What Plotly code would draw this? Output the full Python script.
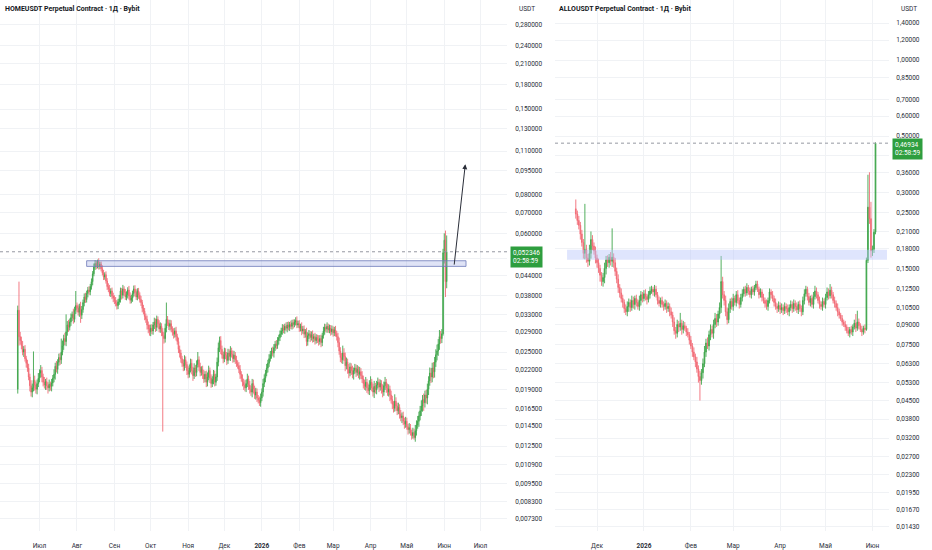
import numpy as np
import pandas as pd
import plotly.graph_objects as go

W, H = 932, 550

# ---- HOMEUSDT daily candles (prices in 1e-4 USDT) ----
home_first_open = 190
home_close = [
    340, 280, 272, 262, 250, 255, 238, 230, 222, 208, 195, 186, 192, 203, 196, 190, 198, 206, 214, 218,
    208, 200, 196, 201, 195, 192, 197, 194, 199, 206, 212, 225, 220, 232, 240, 236, 250, 262, 276, 270,
    290, 305, 300, 312, 322, 330, 318, 340, 352, 345, 335, 350, 328, 342, 360, 375, 368, 385, 395, 390,
    405, 420, 445, 468, 480, 472, 488, 470, 478, 462, 448, 435, 442, 422, 405, 398, 385, 392, 378, 372,
    365, 358, 352, 362, 370, 392, 380, 398, 388, 375, 382, 395, 378, 366, 372, 385, 398, 388, 375, 392,
    380, 368, 360, 345, 338, 325, 318, 305, 296, 290, 298, 292, 305, 312, 300, 318, 308, 296, 302, 290,
    282, 276, 298, 318, 310, 302, 308, 296, 290, 285, 292, 280, 270, 255, 248, 238, 230, 225, 236, 228,
    218, 212, 222, 230, 218, 210, 222, 215, 228, 236, 224, 215, 220, 212, 205, 212, 200, 208, 218, 206,
    198, 204, 212, 200, 208, 232, 258, 272, 255, 245, 238, 250, 244, 235, 248, 242, 252, 246, 238, 244,
    236, 230, 226, 220, 212, 206, 200, 196, 192, 198, 205, 196, 190, 186, 198, 190, 182, 186, 178, 175,
    172, 178, 186, 198, 206, 214, 222, 230, 238, 245, 252, 248, 258, 265, 262, 272, 278, 285, 292, 298,
    294, 302, 298, 305, 300, 306, 302, 310, 306, 312, 315, 305, 308, 298, 302, 292, 296, 285, 290, 270,
    282, 286, 278, 284, 276, 280, 272, 278, 274, 270, 276, 268, 282, 292, 300, 296, 302, 294, 298, 290,
    296, 288, 294, 286, 280, 268, 252, 240, 236, 248, 242, 226, 232, 220, 214, 224, 218, 212, 218, 222,
    215, 220, 212, 216, 210, 205, 198, 194, 200, 192, 188, 196, 200, 192, 186, 194, 189, 196, 200, 193,
    198, 190, 186, 195, 200, 192, 186, 190, 182, 176, 170, 165, 174, 168, 162, 166, 158, 154, 156, 150,
    147, 150, 144, 141, 143, 138, 135, 138, 133, 140, 146, 150, 156, 162, 168, 176, 172, 182, 178, 190,
    202, 214, 208, 222, 216, 232, 245, 252, 265, 280, 276, 286, 520, 570, 420, 523.46,
]
home_upper_wick = [
    12, 80, 10, 8, 9, 6, 8, 5, 6, 7, 5, 8, 6, 48, 7, 5, 6, 8, 6, 9,
    6, 5, 8, 4, 6, 5, 7, 4, 6, 5, 8, 6, 9, 5, 7, 8, 26, 10, 8, 12,
    40, 9, 12, 8, 10, 7, 14, 9, 40, 8, 10, 7, 12, 9, 8, 10, 12, 8, 9, 11,
    8, 10, 9, 12, 12, 10, 6, 11, 8, 9, 12, 10, 8, 11, 9, 10, 12, 8, 10, 9,
    8, 10, 9, 8, 11, 10, 9, 12, 8, 10, 9, 8, 12, 10, 9, 8, 10, 11, 9, 8,
    9, 8, 10, 7, 9, 8, 7, 9, 8, 10, 8, 9, 7, 10, 8, 9, 7, 8, 9, 7,
    8, 7, 10, 42, 8, 7, 9, 8, 6, 8, 7, 9, 6, 8, 7, 6, 5, 7, 8, 6,
    5, 7, 6, 8, 7, 6, 8, 5, 7, 14, 6, 7, 5, 6, 7, 5, 6, 7, 8, 5,
    6, 5, 7, 6, 5, 8, 10, 8, 9, 7, 6, 8, 7, 6, 8, 7, 9, 6, 7, 8,
    6, 7, 5, 6, 7, 5, 6, 5, 7, 6, 8, 5, 6, 5, 7, 6, 5, 6, 5, 4,
    5, 6, 5, 7, 6, 5, 7, 6, 8, 7, 6, 8, 7, 6, 8, 7, 6, 8, 7, 9,
    8, 6, 9, 7, 8, 6, 9, 7, 8, 6, 8, 10, 7, 8, 6, 9, 7, 8, 6, 9,
    7, 8, 6, 7, 9, 6, 8, 7, 6, 9, 7, 8, 6, 9, 8, 7, 9, 6, 8, 7,
    8, 6, 7, 9, 6, 8, 10, 7, 8, 14, 9, 7, 8, 6, 9, 7, 6, 8, 5, 7,
    6, 7, 5, 8, 6, 7, 5, 6, 8, 5, 6, 7, 9, 5, 6, 8, 5, 6, 7, 5,
    6, 5, 7, 6, 8, 5, 6, 7, 5, 6, 5, 4, 9, 5, 4, 6, 4, 5, 4, 5,
    4, 5, 4, 3, 5, 4, 3, 5, 4, 6, 5, 6, 5, 6, 7, 6, 8, 6, 7, 8,
    7, 9, 8, 9, 10, 9, 10, 12, 10, 14, 12, 10, 15, 30, 42, 67,
]
home_lower_wick = [
    6, 18, 8, 7, 6, 9, 5, 7, 6, 5, 8, 6, 7, 5, 8, 6, 7, 5, 6, 7,
    8, 6, 5, 7, 6, 8, 5, 6, 7, 5, 6, 8, 5, 7, 6, 9, 7, 6, 8, 7,
    9, 8, 10, 7, 9, 8, 10, 7, 9, 10, 8, 11, 18, 9, 8, 10, 9, 8, 11, 9,
    10, 9, 11, 8, 10, 12, 9, 11, 10, 9, 8, 10, 9, 8, 10, 9, 8, 10, 9, 11,
    9, 8, 10, 9, 8, 10, 12, 9, 10, 8, 9, 11, 10, 9, 8, 10, 9, 11, 8, 9,
    10, 8, 9, 10, 8, 9, 8, 10, 9, 8, 9, 7, 8, 9, 10, 8, 9, 7, 8, 9,
    143, 10, 8, 9, 7, 8, 9, 7, 8, 9, 7, 8, 6, 7, 8, 7, 6, 8, 7, 6,
    7, 6, 5, 7, 6, 8, 5, 7, 6, 5, 7, 6, 5, 7, 6, 5, 7, 6, 5, 7,
    6, 5, 7, 6, 5, 6, 7, 8, 9, 7, 8, 6, 7, 8, 6, 7, 8, 6, 7, 6,
    7, 6, 5, 6, 7, 5, 6, 7, 5, 6, 5, 7, 6, 5, 7, 6, 5, 6, 5, 4,
    4, 5, 4, 6, 5, 6, 5, 7, 6, 5, 7, 6, 8, 6, 7, 6, 8, 7, 6, 8,
    7, 8, 6, 9, 7, 8, 6, 7, 9, 6, 8, 7, 6, 8, 7, 9, 6, 8, 7, 9,
    8, 7, 9, 6, 8, 7, 8, 6, 7, 8, 6, 9, 7, 6, 8, 7, 8, 6, 7, 8,
    6, 8, 7, 6, 8, 9, 7, 8, 6, 7, 8, 9, 6, 7, 8, 5, 7, 6, 8, 5,
    7, 5, 6, 8, 5, 6, 7, 5, 6, 7, 5, 6, 7, 5, 6, 8, 5, 6, 5, 7,
    5, 6, 7, 5, 6, 7, 5, 6, 8, 5, 6, 5, 4, 6, 5, 4, 5, 4, 6, 4,
    5, 4, 3, 5, 4, 3, 4, 3, 2, 4, 5, 4, 6, 5, 6, 7, 10, 6, 7, 8,
    8, 7, 9, 8, 10, 9, 8, 10, 9, 11, 10, 9, 4, 40, 45, 20,
]

# ---- ALLOUSDT daily candles (prices in 1e-3 USDT) ----
allo_first_open = 258
allo_close = [
    246, 232, 222, 205, 190, 172, 178, 165, 160, 172, 195, 184, 176, 165, 158, 150, 141, 133, 138, 150,
    162, 158, 166, 160, 166, 158, 146, 136, 126, 120, 114, 110, 104, 101, 106, 110, 105, 112, 108, 114,
    110, 106, 112, 118, 114, 119, 116, 113, 118, 122, 124, 121, 124, 118, 112, 109, 112, 108, 106, 109,
    104, 106, 101, 98, 92, 85, 83, 90, 88, 91, 86, 89, 87, 84, 82, 78, 74, 70, 67, 64,
    60, 56, 54, 58, 63, 70, 76, 74, 82, 86, 83, 90, 95, 92, 99, 105, 133, 118, 112, 101,
    94, 104, 111, 106, 114, 110, 118, 112, 108, 115, 119, 124, 120, 126, 122, 118, 124, 121, 126, 130,
    124, 118, 121, 115, 112, 109, 106, 112, 121, 118, 114, 110, 106, 104, 107, 103, 105, 102, 106, 104,
    101, 105, 108, 104, 109, 106, 103, 108, 104, 101, 112, 119, 124, 116, 110, 114, 108, 116, 122, 118,
    112, 108, 106, 111, 108, 115, 121, 117, 123, 118, 112, 109, 105, 101, 98, 95, 92, 90, 88, 85,
    83, 86, 84, 88, 91, 87, 92, 89, 86, 84, 87, 86, 161.5, 262, 236, 176, 178.6, 208.6, 469.34,
]
allo_upper_wick = [
    23, 8, 10, 7, 8, 6, 92, 8, 6, 14, 15, 8, 6, 7, 5, 6, 5, 4, 6, 8,
    6, 7, 5, 8, 50, 6, 7, 5, 6, 4, 5, 4, 3, 4, 5, 4, 3, 5, 4, 3,
    4, 3, 5, 4, 3, 4, 5, 3, 4, 5, 4, 3, 5, 4, 3, 4, 3, 4, 3, 4,
    3, 4, 3, 4, 3, 4, 3, 4, 3, 9, 3, 4, 3, 2, 3, 2, 3, 2, 3, 2,
    3, 2, 3, 2, 3, 4, 3, 4, 3, 4, 3, 4, 5, 4, 3, 5, 35, 6, 4, 5,
    4, 5, 3, 4, 5, 3, 4, 5, 3, 4, 5, 3, 4, 5, 3, 4, 3, 4, 3, 4,
    4, 3, 4, 3, 4, 3, 4, 3, 4, 3, 4, 3, 4, 3, 4, 3, 4, 3, 4, 3,
    4, 3, 4, 3, 4, 3, 4, 3, 4, 3, 4, 5, 4, 3, 4, 3, 4, 5, 6, 4,
    3, 4, 3, 4, 3, 4, 5, 4, 7, 4, 3, 4, 3, 4, 3, 2, 3, 2, 3, 2,
    3, 2, 3, 2, 3, 8, 10, 3, 2, 3, 2, 3, 4, 90, 98, 39, 6, 6, 3,
]
allo_lower_wick = [
    10, 9, 8, 10, 7, 8, 9, 7, 8, 6, 8, 7, 6, 8, 7, 6, 8, 5, 6, 7,
    8, 6, 7, 6, 8, 7, 6, 5, 6, 5, 4, 5, 4, 3, 4, 5, 4, 3, 4, 5,
    4, 3, 4, 5, 4, 3, 4, 5, 3, 4, 3, 4, 5, 3, 4, 3, 4, 3, 4, 3,
    4, 3, 4, 3, 4, 3, 4, 3, 4, 3, 4, 3, 2, 3, 2, 3, 2, 3, 2, 3,
    2, 3, 9, 2, 3, 2, 3, 2, 3, 4, 3, 4, 3, 4, 3, 4, 5, 4, 5, 4,
    4, 3, 4, 3, 4, 3, 4, 3, 4, 3, 4, 3, 4, 3, 4, 3, 4, 3, 4, 3,
    3, 4, 3, 4, 3, 4, 3, 4, 3, 4, 3, 4, 3, 4, 3, 4, 3, 4, 3, 4,
    3, 4, 3, 4, 3, 4, 3, 4, 3, 4, 3, 4, 3, 4, 3, 4, 3, 4, 3, 4,
    3, 4, 3, 4, 3, 4, 3, 4, 3, 4, 3, 4, 3, 4, 3, 2, 3, 2, 3, 2,
    2, 3, 2, 3, 2, 3, 2, 3, 2, 3, 2, 3, 1, 4, 11, 10.5, 8, 6, 4,
]

last_day = "2026-06-03"
home_last_text = "0,052346"
allo_last_text = "0,46934"
countdown = "02:58:59"

home_yticks = [0.28, 0.24, 0.21, 0.18, 0.15, 0.13, 0.11, 0.095, 0.08, 0.07, 0.06, 0.05, 0.044,
               0.038, 0.033, 0.029, 0.025, 0.022, 0.019, 0.0165, 0.0145, 0.0125, 0.0109,
               0.0095, 0.0083, 0.0073]
allo_yticks = [1.4, 1.2, 1.0, 0.85, 0.70, 0.60, 0.50, 0.42, 0.36, 0.30, 0.25, 0.21, 0.18, 0.15,
               0.125, 0.105, 0.09, 0.075, 0.063, 0.053, 0.045, 0.038, 0.032, 0.027, 0.023,
               0.0195, 0.0167, 0.0143]

home_months = ["2025-07-01", "2025-08-01", "2025-09-01", "2025-10-01", "2025-11-01", "2025-12-01",
               "2026-01-01", "2026-02-01", "2026-03-01", "2026-04-01", "2026-05-01", "2026-06-01",
               "2026-07-01"]
home_month_labels = ["Июл", "Авг", "Сен", "Окт", "Ноя", "Дек", "<b>2026</b>", "Фев", "Мар",
                     "Апр", "Май", "Июн", "Июл"]
allo_months = ["2025-12-01", "2026-01-01", "2026-02-01", "2026-03-01", "2026-04-01",
               "2026-05-01", "2026-06-01"]
allo_month_labels = ["Дек", "<b>2026</b>", "Фев", "Мар", "Апр", "Май", "Июн"]


def ohlc(first_open, close, up, down, unit):
    c = np.array(close, dtype=float)
    o = np.concatenate([[first_open], c[:-1]])
    hi = np.maximum(o, c) + np.array(up, dtype=float)
    lo = np.minimum(o, c) - np.array(down, dtype=float)
    return o * unit, hi * unit, lo * unit, c * unit


ho, hh, hl, hc = ohlc(home_first_open, home_close, home_upper_wick, home_lower_wick, 1e-4)
ao, ah, al, ac = ohlc(allo_first_open, allo_close, allo_upper_wick, allo_lower_wick, 1e-3)
home_dates = pd.date_range(end=last_day, periods=len(home_close), freq="D")
allo_dates = pd.date_range(end=last_day, periods=len(allo_close), freq="D")

GREEN = "#3FA64C"
RED = "#F26B76"
GRID = "#F0F2F5"
TXT = "#2A2E39"
FONT = "Roboto"

fig = go.Figure()
for dates, o, h, l, c, xa, ya in [(home_dates, ho, hh, hl, hc, "x", "y"),
                                  (allo_dates, ao, ah, al, ac, "x2", "y2")]:
    fig.add_trace(go.Candlestick(
        x=dates, open=o, high=h, low=l, close=c, xaxis=xa, yaxis=ya,
        increasing=dict(line=dict(color=GREEN, width=0.9), fillcolor=GREEN),
        decreasing=dict(line=dict(color=RED, width=0.9), fillcolor=RED),
        whiskerwidth=0, hoverinfo="skip", showlegend=False))


def xaxis_style(domain, rng, vals, labels, anchor):
    return dict(domain=domain, type="date", range=rng, tickvals=vals, ticktext=labels,
                showgrid=True, gridcolor=GRID, gridwidth=1, zeroline=False, showline=False,
                ticks="outside", ticklen=8, tickcolor="rgba(0,0,0,0)",
                tickfont=dict(size=6.5, color=TXT, family=FONT),
                rangeslider=dict(visible=False), anchor=anchor, fixedrange=True)


def yaxis_style(rng, vals, fmt, hidden, anchor, tlen):
    texts = ["" if v in hidden else fmt.format(v).replace(".", ",") for v in vals]
    return dict(domain=[17 / H, 1], type="log", range=rng, side="right", tickvals=vals,
                ticktext=texts, showgrid=True, gridcolor=GRID, gridwidth=1, zeroline=False,
                showline=False, ticks="outside", ticklen=tlen, tickcolor="rgba(0,0,0,0)",
                tickfont=dict(size=6.5, color=TXT, family=FONT), anchor=anchor, fixedrange=True)


fig.update_layout(
    width=W, height=H, margin=dict(l=0, r=0, t=0, b=0),
    paper_bgcolor="white", plot_bgcolor="white", hovermode=False,
    font=dict(family=FONT, color=TXT),
    xaxis=xaxis_style([0, 507 / W], ["2025-05-29 07:00", "2026-07-22 22:00"],
                      home_months, home_month_labels, "y"),
    yaxis=yaxis_style([-2.1755, -0.4748], home_yticks, "{:.6f}", [0.05], "x", 6),
    xaxis2=xaxis_style([555 / W, 889 / W], ["2025-11-03 06:00", "2026-06-11 22:00"],
                       allo_months, allo_month_labels, "y2"),
    yaxis2=yaxis_style([-1.863, 0.2378], allo_yticks, "{:.5f}", [0.42], "x2", 5),
)

# support / resistance zones
fig.add_shape(type="rect", xref="x", yref="y", x0="2025-08-09", x1="2026-06-19",
              y0=0.0470, y1=0.0490, fillcolor="rgba(150,162,225,0.30)",
              line=dict(color="rgba(110,122,185,0.8)", width=1), layer="above")
fig.add_shape(type="rect", xref="x2", yref="y2", x0="2025-11-11 05:00", x1="2026-06-10 14:00",
              y0=0.1623, y1=0.1777, fillcolor="rgba(185,198,250,0.45)",
              line=dict(width=0), layer="above")

# last price dotted lines
fig.add_shape(type="line", xref="x domain", yref="y", x0=0, x1=1, y0=hc[-1], y1=hc[-1],
              line=dict(color="#9598A1", width=1, dash="dot"))
fig.add_shape(type="line", xref="x2 domain", yref="y2", x0=0, x1=1, y0=ac[-1], y1=ac[-1],
              line=dict(color="#9598A1", width=1, dash="dot"))

# projection arrow on HOME
fig.add_annotation(xref="x", yref="y", axref="x", ayref="y",
                   x="2026-06-18 10:00", y=np.log10(0.0999),
                   ax="2026-06-09 02:00", ay=np.log10(0.0471),
                   text="", showarrow=True, arrowhead=2, arrowsize=1, arrowwidth=1,
                   arrowcolor="#2A2E39")

# titles
for x, t in [(3, "HOMEUSDT Perpetual Contract · 1Д · Bybit"),
             (557, "ALLOUSDT Perpetual Contract · 1Д · Bybit")]:
    fig.add_annotation(xref="paper", yref="paper", x=x / W, y=1 - 9 / H, xanchor="left",
                       yanchor="middle", text="<b>" + t + "</b>", showarrow=False,
                       font=dict(size=7, color="#131722", family=FONT))

# currency labels
for x in [517, 899]:
    fig.add_annotation(xref="paper", yref="paper", x=x / W, y=1 - 9 / H, xanchor="left",
                       yanchor="middle", text="USDT", showarrow=False,
                       font=dict(size=6.5, color=TXT, family=FONT))

# last price tags
for x, ytop, t in [(510, 247, home_last_text), (892, 139, allo_last_text)]:
    fig.add_annotation(xref="paper", yref="paper", x=x / W, y=1 - ytop / H, xanchor="left",
                       yanchor="top", text=t + "<br>" + countdown, showarrow=False,
                       bgcolor="#2E9E3F", borderpad=2, align="left",
                       font=dict(size=6.5, color="white", family=FONT))

fig.write_html("out.html", config={"displayModeBar": False},
               post_script="document.body.style.margin='0';")
